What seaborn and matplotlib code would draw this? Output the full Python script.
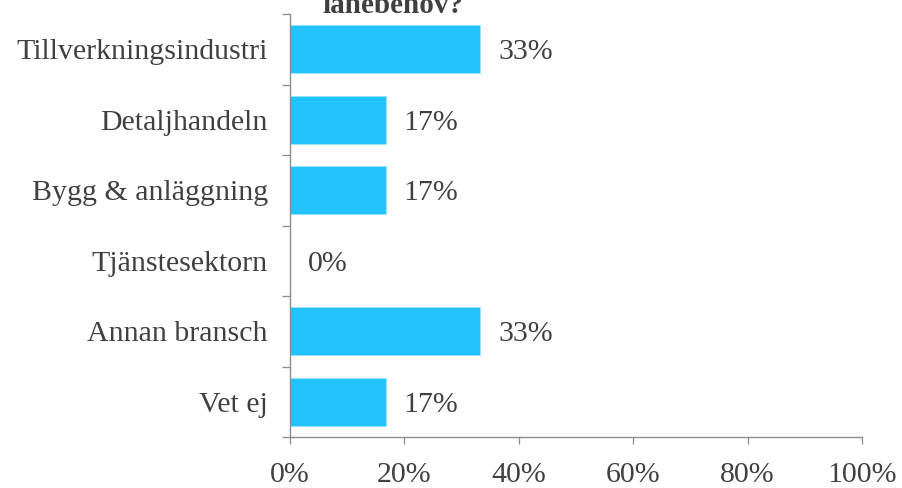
import matplotlib
matplotlib.use("Agg")
import matplotlib.pyplot as plt
import seaborn as sns
import pandas as pd
import numpy as np

categories = ["Tillverkningsindustri", "Detaljhandeln", "Bygg & anläggning",
              "Tjänstesektorn", "Annan bransch", "Vet ej"]
values = [33.3, 16.7, 16.7, 0.0, 33.3, 16.7]
value_labels = ["33%", "17%", "17%", "0%", "33%", "17%"]
xticks = [0, 20, 40, 60, 80, 100]
xtick_labels = ["0%", "20%", "40%", "60%", "80%", "100%"]
title_tail = "lånebehov?"

sns.set_theme(style="white")
plt.rcParams["font.family"] = ["Liberation Serif", "DejaVu Serif"]

text_color = "#404040"
axis_color = "#8c8c8c"
bar_color = "#22C3FF"
fs = 21.5

df = pd.DataFrame({"cat": categories, "val": values})

fig = plt.figure(figsize=(9.03, 4.88), dpi=100)
ax = fig.add_axes([290/903, 1-437/488, (862-290)/903, (437-14)/488])

sns.barplot(data=df, y="cat", x="val", orient="h", color=bar_color,
            saturation=1, width=0.68, ax=ax)
for p in ax.patches:
    p.set_edgecolor("#9be3ff")
    p.set_linewidth(0.6)

ax.set_xlim(0, 100)
ax.set_ylim(len(categories) - 0.5, -0.5)
ax.set_xlabel("")
ax.set_ylabel("")

ax.set_xticks(xticks)
ax.set_xticklabels(xtick_labels, fontsize=fs, color=text_color)
ax.tick_params(axis="x", bottom=True, direction="out", length=5, width=0.9,
               color=axis_color, pad=13)

ax.set_yticks(range(len(categories)))
ax.set_yticklabels(categories, fontsize=fs, color=text_color)
ax.tick_params(axis="y", which="major", left=True, length=0, pad=16)
ax.set_yticks(np.arange(-0.5, len(categories), 1.0), minor=True)
ax.tick_params(axis="y", which="minor", left=True, direction="out", length=6,
               width=0.9, color=axis_color)

for s in ["top", "right"]:
    ax.spines[s].set_visible(False)
for s in ["left", "bottom"]:
    ax.spines[s].set_color(axis_color)
    ax.spines[s].set_linewidth(1.0)

for i, (v, lab) in enumerate(zip(values, value_labels)):
    ax.annotate(lab, xy=(v, i), xytext=(13, -2), textcoords="offset points",
                va="center", ha="left", fontsize=fs, color=text_color)

fig.text(393/903, 1-13/488, title_tail, ha="center", va="baseline",
         fontsize=21, fontweight="bold", color=text_color)

fig.savefig("out.png", dpi=100)
